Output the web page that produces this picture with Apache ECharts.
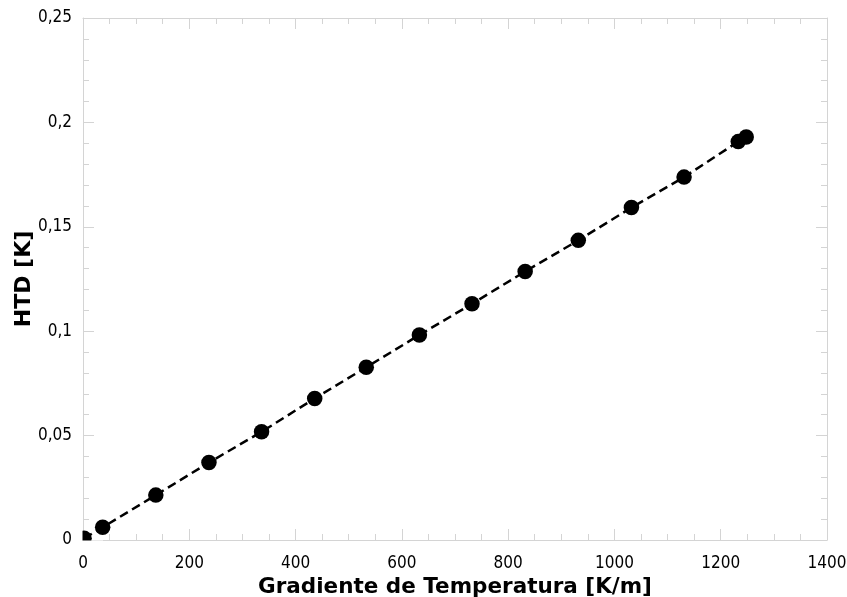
<!DOCTYPE html>
<html>
<head>
<meta charset="utf-8">
<script src="https://cdn.jsdelivr.net/npm/echarts@6/dist/echarts.min.js"></script>
<style>
html,body{margin:0;padding:0;background:#fff;}
#chart{width:847px;height:597px;}
</style>
</head>
<body>
<div id="chart"></div>
<script>
// Data
var gradient = [2, 37, 137, 237, 336, 436, 533, 633, 732, 832, 932, 1032, 1131, 1233, 1248];
var htd = [0.0008, 0.0061, 0.0215, 0.0371, 0.0518, 0.0678, 0.0827, 0.0982, 0.1131, 0.1286, 0.1435, 0.1592, 0.1738, 0.1908, 0.1930];
var yTickValues = [0, 0.05, 0.1, 0.15, 0.2, 0.25];
var yTickLabels = ['0', '0,05', '0,1', '0,15', '0,2', '0,25'];
var xTickValues = [0, 200, 400, 600, 800, 1000, 1200, 1400];
var xTickLabels = ['0', '200', '400', '600', '800', '1000', '1200', '1400'];
var xTitle = 'Gradiente de Temperatura [K/m]';
var yTitle = 'HTD [K]';

var frameColor = '#d4d4d4';
var labelFont = "'Liberation Sans Narrow', 'DejaVu Sans Condensed', sans-serif";
var titleFont = "'DejaVu Sans', sans-serif";

function lookup(vals, labels) {
  return function (v) {
    for (var i = 0; i < vals.length; i++) {
      if (Math.abs(v - vals[i]) < 1e-9) return labels[i];
    }
    return '';
  };
}

var points = gradient.map(function (g, i) { return [g, htd[i]]; });

function axis(extra, split) {
  var base = {
    type: 'value',
    axisLine: { show: true, onZero: false, lineStyle: { color: frameColor, width: 1 } },
    axisTick: { show: true, inside: true, length: 11, lineStyle: { color: frameColor, width: 1 } },
    minorTick: { show: true, splitNumber: split, length: 6, lineStyle: { color: frameColor, width: 1 } },
    splitLine: { show: false },
    minorSplitLine: { show: false },
    axisLabel: { show: false }
  };
  for (var k in extra) base[k] = extra[k];
  return base;
}

var chart = echarts.init(document.getElementById('chart'), null, { renderer: 'canvas' });
chart.setOption({
  animation: false,
  backgroundColor: '#ffffff',
  grid: { left: 83, right: 20, top: 18, bottom: 57, containLabel: false, outerBoundsMode: 'none' },
  xAxis: [
    axis({
      position: 'bottom', min: 0, max: 1400, interval: 200,
      axisLabel: { show: true, color: '#000', fontFamily: labelFont, fontSize: 17, margin: 15, formatter: lookup(xTickValues, xTickLabels) },
      name: xTitle, nameLocation: 'middle', nameGap: 36, nameMoveOverlap: false,
      nameTextStyle: { color: '#000', fontFamily: titleFont, fontWeight: 'bold', fontSize: 21.5 }
    }, 4),
    axis({ position: 'top', min: 0, max: 1400, interval: 200 }, 4)
  ],
  yAxis: [
    axis({
      position: 'left', min: 0, max: 0.25, interval: 0.05,
      axisLabel: { show: true, color: '#000', fontFamily: labelFont, fontSize: 17, margin: 11, formatter: lookup(yTickValues, yTickLabels) },
      name: yTitle, nameLocation: 'middle', nameGap: 48, nameRotate: 90, nameMoveOverlap: false,
      nameTextStyle: { color: '#000', fontFamily: titleFont, fontWeight: 'bold', fontSize: 22 }
    }, 5),
    axis({ position: 'right', min: 0, max: 0.25, interval: 0.05 }, 5)
  ],
  series: [{
    type: 'line',
    data: points,
    xAxisIndex: 0,
    yAxisIndex: 0,
    symbol: 'circle',
    symbolSize: 15.5,
    showAllSymbol: true,
    clip: true,
    itemStyle: { color: '#000' },
    lineStyle: { color: '#000', width: 2.5, type: [9, 5] },
    z: 3
  }]
});

// Mask the parts of markers that spill outside the plot frame (reference clips them)
var origin = chart.convertToPixel({ gridIndex: 0 }, [0, 0]);
var ox = origin[0], oy = origin[1];
chart.setOption({
  graphic: [
    { type: 'rect', z: 100, silent: true, shape: { x: ox - 10, y: oy - 20, width: 9.5, height: 30 }, style: { fill: '#fff' } },
    { type: 'rect', z: 100, silent: true, shape: { x: ox - 10, y: oy + 0.5, width: 30, height: 9.5 }, style: { fill: '#fff' } }
  ]
});
</script>
</body>
</html>
